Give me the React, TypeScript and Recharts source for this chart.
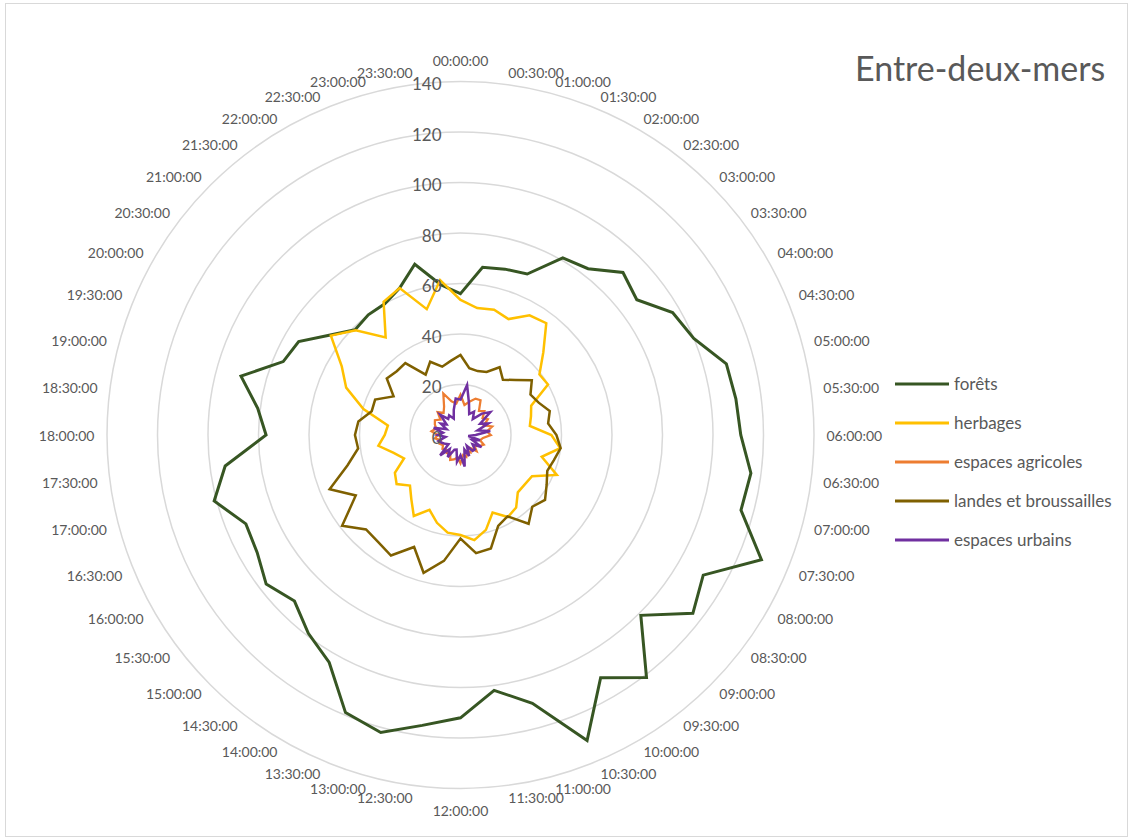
import React from 'react';
import { RadarChart, Radar, PolarGrid, PolarAngleAxis, PolarRadiusAxis, Legend } from 'recharts';

const HEURES = [
  '00:00:00', '00:30:00', '01:00:00', '01:30:00', '02:00:00', '02:30:00', '03:00:00', '03:30:00',
  '04:00:00', '04:30:00', '05:00:00', '05:30:00', '06:00:00', '06:30:00', '07:00:00', '07:30:00',
  '08:00:00', '08:30:00', '09:00:00', '09:30:00', '10:00:00', '10:30:00', '11:00:00', '11:30:00',
  '12:00:00', '12:30:00', '13:00:00', '13:30:00', '14:00:00', '14:30:00', '15:00:00', '15:30:00',
  '16:00:00', '16:30:00', '17:00:00', '17:30:00', '18:00:00', '18:30:00', '19:00:00', '19:30:00',
  '20:00:00', '20:30:00', '21:00:00', '21:30:00', '22:00:00', '22:30:00', '23:00:00', '23:30:00',
];

const FORETS = [
  56, 67, 68, 69, 81, 83, 91, 88, 97, 100, 109, 110, 111, 116, 115, 129,
  111, 116, 101, 121, 111, 131, 110, 102, 112, 116, 122, 119, 104, 99, 93, 97,
  93, 92, 101, 94, 77, 81, 90, 76, 74, 65, 59, 60, 60, 63, 70, 60,
];

const HERBAGES = [
  53.5, 50.7, 51.4, 49.7, 54.7, 55.8, 46.4, 39.4, 40, 30.3, 28.9, 27.7, 36, 39.8, 33.3, 41.3,
  32.7, 32.1, 32.1, 36.2, 37.5, 33.2, 38.9, 42, 39.6, 39, 36, 32.1, 37, 32, 28.3, 31.9,
  30, 24.2, 27.4, 32.8, 30, 29, 39.8, 49, 54.3, 64.7, 58.7, 48.7, 60.9, 63, 51.6, 61.9,
];

const AGRICOLES = [
  16, 12, 13.6, 15.6, 15.9, 12, 13.4, 11, 12.5, 10, 13, 10.5, 12, 9, 8, 10,
  8.7, 7, 9, 6.5, 8, 7, 9, 8, 11.2, 9, 10, 10.7, 8, 9, 8.1, 9,
  8, 9, 8, 10.2, 9, 11.6, 10, 11, 11.7, 10, 12.8, 11, 13, 17.8, 13.8, 12.6,
];

const LANDES = [
  31.7, 26.7, 26.2, 27, 31, 27.6, 30.8, 35.6, 32, 33.5, 36.6, 35, 38, 40, 38.3, 37.2,
  39.4, 42.2, 40.2, 44.3, 37.2, 39, 46.5, 47.2, 41, 50.3, 56.5, 48, 55.1, 53.5, 52.9, 59.1,
  47.9, 56.1, 46.3, 40.9, 41.8, 40.8, 36.4, 36.6, 30.6, 36.8, 35.7, 35.9, 27.6, 31.4, 28, 29.6,
];

const URBAINS = [
  14, 20, 13, 9, 10.7, 8, 12, 14.9, 9, 12, 7, 11.9, 6, 3.1, 8, 5,
  9.6, 6, 8, 7.9, 5, 9, 6, 12.6, 8, 10.7, 6, 6.3, 10.1, 7, 11.4, 6,
  7, 8, 9, 6, 9, 7, 11, 6, 9, 7, 11.3, 8, 9, 7, 10.3, 14.6,
];

const SERIES = [
  { key: 'forets', nom: 'forêts', couleur: '#375623', epaisseur: 3 },
  { key: 'herbages', nom: 'herbages', couleur: '#ffc000', epaisseur: 2.5 },
  { key: 'agricoles', nom: 'espaces agricoles', couleur: '#ed7d31', epaisseur: 2.25 },
  { key: 'landes', nom: 'landes et broussailles', couleur: '#7f6000', epaisseur: 2.5 },
  { key: 'urbains', nom: 'espaces urbains', couleur: '#7030a0', epaisseur: 2.5 },
];

const data = HEURES.map((h, i) => ({
  heure: h,
  forets: FORETS[i],
  herbages: HERBAGES[i],
  agricoles: AGRICOLES[i],
  landes: LANDES[i],
  urbains: URBAINS[i],
}));

const CX = 460.5;
const CY = 435;
const RAYON = 353.5;
const RAYON_LABEL = 366;
const GRIS = '#595959';
const POLICE = 'Lato, "Open Sans", sans-serif';

function TickHeure({ payload }: any) {
  const i = HEURES.indexOf(payload?.value);
  const a = (i * 7.5 * Math.PI) / 180;
  const s = Math.sin(a);
  const c = Math.cos(a);
  const x = CX + RAYON_LABEL * s;
  let y = CY - RAYON_LABEL * c;
  let anchor = 'middle';
  if (s > 0.01) anchor = 'start';
  else if (s < -0.01) anchor = 'end';
  else y += c > 0 ? -9 : 9;
  return (
    <text x={x} y={y} textAnchor={anchor} dominantBaseline="central"
      fontSize={14} fontFamily={POLICE} fill={GRIS}>
      {payload.value}
    </text>
  );
}

function TickRayon({ x, y, payload }: any) {
  return (
    <text x={x - 19} y={y + 2} textAnchor="end" dominantBaseline="central"
      fontSize={17} fontFamily={POLICE} fill={GRIS}>
      {payload.value}
    </text>
  );
}

function Legende() {
  return (
    <div style={{ fontFamily: POLICE, fontSize: 17, color: GRIS }}>
      {SERIES.map((s) => (
        <div key={s.key} style={{ height: 39, display: 'flex', alignItems: 'center' }}>
          <svg width={54} height={6} style={{ marginRight: 5 }}>
            <line x1={0} y1={3} x2={54} y2={3} stroke={s.couleur} strokeWidth={3} />
          </svg>
          <span>{s.nom}</span>
        </div>
      ))}
    </div>
  );
}

export default function App() {
  return (
    <div style={{ position: 'absolute', left: 0, top: 0, width: 1130, height: 839, background: '#fff' }}>
      <div style={{ position: 'absolute', left: 5, top: 3, width: 1121, height: 832, border: '1px solid #d9d9d9' }} />
      <div style={{ position: 'absolute', left: 855, top: 47, fontFamily: POLICE, fontSize: 34, color: GRIS, whiteSpace: 'nowrap' }}>
        Entre-deux-mers
      </div>
      <RadarChart width={1130} height={839} data={data} cx={CX} cy={CY} outerRadius={RAYON}
        margin={{ top: 0, right: 0, bottom: 0, left: 0 }}>
        <PolarGrid gridType="circle" radialLines={false} stroke="#d9d9d9" strokeWidth={1.5} />
        <PolarAngleAxis dataKey="heure" tick={<TickHeure />} axisLine={false} tickLine={false} />
        <PolarRadiusAxis angle={90} type="number" domain={[0, 140]} tickCount={8}
          axisLine={false} tickLine={false} tick={<TickRayon />} />
        {SERIES.map((s) => (
          <Radar key={s.key} name={s.nom} dataKey={s.key} stroke={s.couleur} strokeWidth={s.epaisseur}
            fill="none" fillOpacity={0} dot={false} isAnimationActive={false} />
        ))}
        <Legend content={<Legende />}
          wrapperStyle={{ position: 'absolute', left: 895, top: 364, width: 232 }} />
      </RadarChart>
    </div>
  );
}
